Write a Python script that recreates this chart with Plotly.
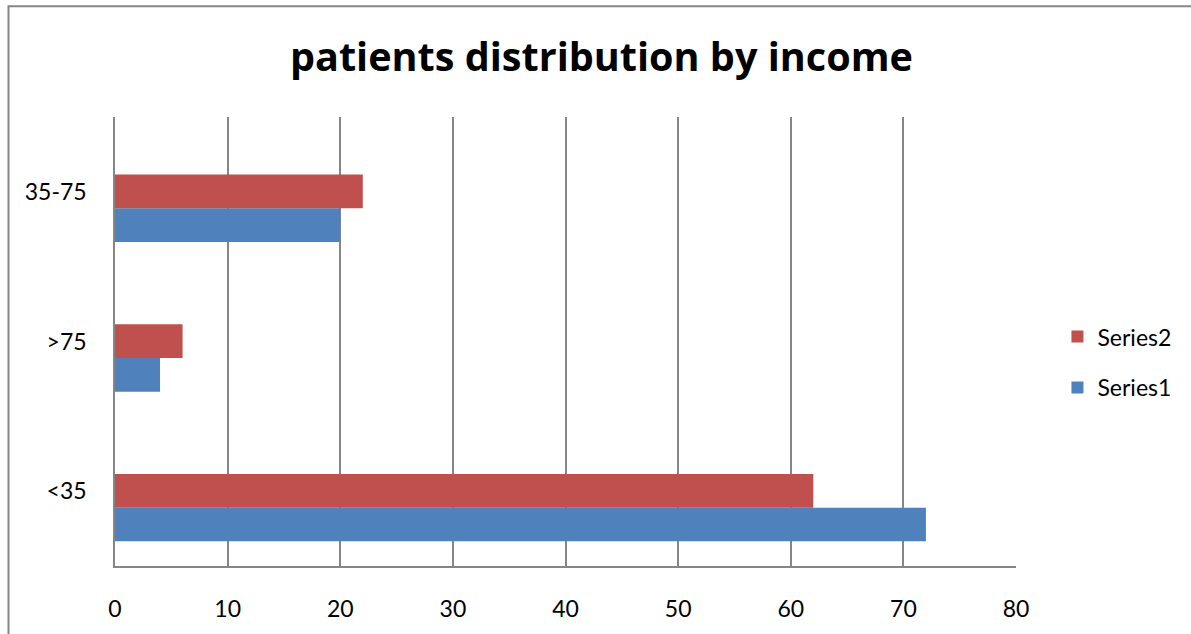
import plotly.graph_objects as go

categories = ["<35", ">75", "35-75"]
series1 = [72, 4, 20]
series2 = [62, 6, 22]
x_ticks = [0, 10, 20, 30, 40, 50, 60, 70, 80]

FONT = "Lato"
GRID = "#868686"

fig = go.Figure()
fig.add_trace(go.Bar(
    y=categories, x=series1, name="Series1", orientation="h",
    marker=dict(color="#4F81BD", line=dict(width=0)),
    offset=-0.335, width=0.225, legendgroup="s1", legendrank=2,
))
fig.add_trace(go.Bar(
    y=categories, x=series2, name="Series2", orientation="h",
    marker=dict(color="#C0504D", line=dict(width=0)),
    offset=-0.11, width=0.225, legendgroup="s2", legendrank=1,
))

fig.update_layout(
    width=1191, height=634,
    margin=dict(l=115, r=175, t=117, b=65),
    paper_bgcolor="white", plot_bgcolor="white",
    barmode="overlay",
    font=dict(family=FONT, size=23, color="black"),
    title=dict(text="<b>patients distribution by income</b>",
               font=dict(family="Open Sans", size=39.6, color="black"),
               x=0.505, xanchor="center", xref="container",
               y=1 - 57 / 634, yanchor="middle", yref="container"),
    xaxis=dict(range=[0, 80], tickvals=x_ticks, showgrid=True, gridcolor=GRID,
               gridwidth=1.5, zeroline=False, showline=True, linecolor=GRID,
               linewidth=1.5, ticks="", ticklabelstandoff=22,
               tickfont=dict(family=FONT, size=23, color="black")),
    yaxis=dict(type="category", categoryorder="array", categoryarray=categories,
               range=[-0.5, 2.5], showgrid=False, zeroline=False, showline=True,
               linecolor=GRID, linewidth=1.5, ticks="", ticklabelstandoff=22,
               tickfont=dict(family=FONT, size=23, color="black")),
    legend=dict(x=1.046, xanchor="left", y=0.454, yanchor="middle",
                traceorder="grouped", tracegroupgap=18,
                font=dict(family=FONT, size=23, color="black"),
                bgcolor="rgba(0,0,0,0)"),
    shapes=[dict(type="rect", xref="paper", yref="paper",
                 x0=(8.5 - 115) / 901, x1=(1200 - 115) / 901,
                 y0=(569 - 645) / 452, y1=(569 - 5.5) / 452,
                 line=dict(color=GRID, width=2), fillcolor="rgba(0,0,0,0)",
                 layer="below")],
)

fig.write_html("out.html", config={"displayModeBar": False},
               post_script="document.body.style.margin='0px';")
